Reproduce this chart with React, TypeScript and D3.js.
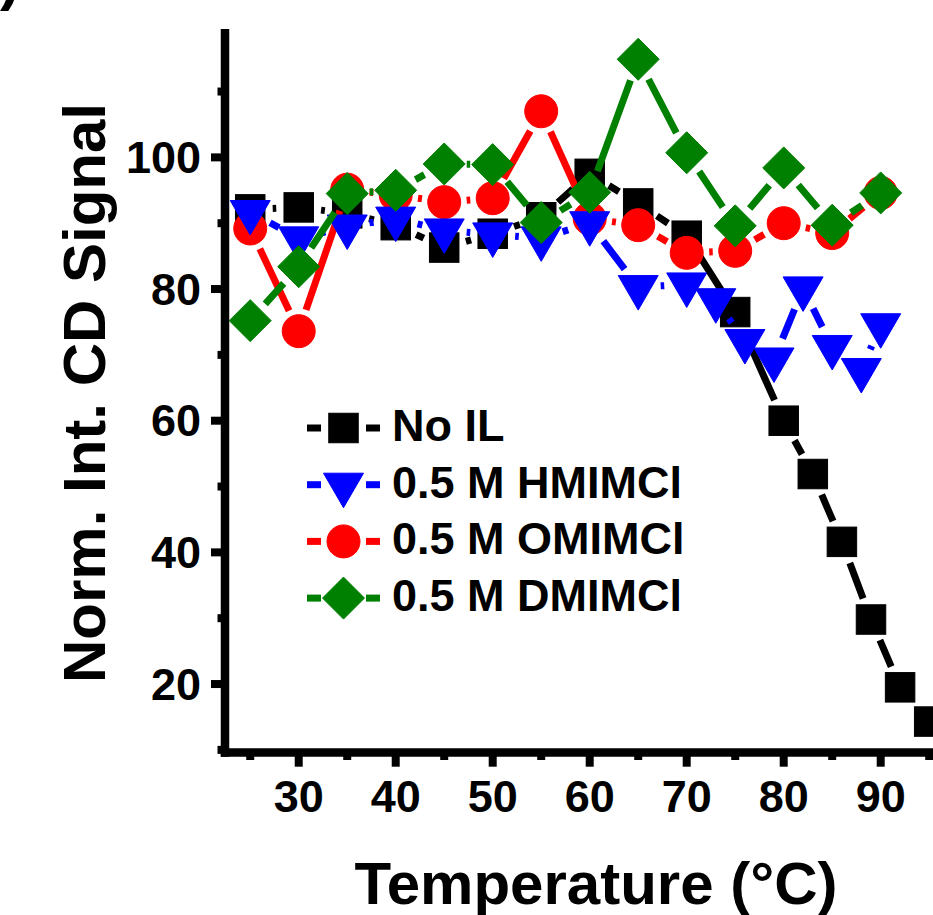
import React from 'react';
import * as d3 from 'd3';

// ---------- data ----------
const noILTemps = [25, 30, 35, 40, 45, 50, 55, 60, 65, 70, 75, 80, 83, 86, 89, 92, 95];
const noILValues = [92.1, 92.4, 91.5, 89.7, 86.3, 88.4, 90.9, 97.5, 93.0, 88.1, 76.5, 60.0, 51.9, 41.6, 29.8, 19.5, 14.3];

const hmimTemps = [25, 30, 35, 40, 45, 50, 55, 60, 65, 70, 73, 76, 79, 82, 85, 88, 90];
const hmimValues = [91.7, 87.7, 89.5, 90.7, 88.9, 88.3, 87.7, 90.0, 80.3, 80.7, 78.3, 72.1, 69.3, 80.1, 71.2, 67.7, 74.5];

const omimTemps = [25, 30, 35, 40, 45, 50, 55, 60, 65, 70, 75, 80, 85, 90];
const omimValues = [89.2, 73.6, 95.1, 94.3, 93.2, 93.8, 107.0, 90.7, 89.7, 85.5, 85.8, 90.0, 88.5, 94.6];

const dmimTemps = [25, 30, 35, 40, 45, 50, 55, 60, 65, 70, 75, 80, 85, 90];
const dmimValues = [75.2, 83.4, 94.5, 95.0, 99.0, 98.9, 90.1, 94.7, 114.9, 100.7, 89.6, 98.4, 89.7, 94.6];

const xMajorTicks = [30, 40, 50, 60, 70, 80, 90];
const xMinorTicks = [25, 35, 45, 55, 65, 75, 85, 95];
const yMajorTicks = [20, 40, 60, 80, 100];
const yMinorTicks = [10, 30, 50, 70, 90, 110];

const seriesNames = ['No IL', '0.5 M HMIMCl', '0.5 M OMIMCl', '0.5 M DMIMCl'];
const seriesColors = ['#000000', '#0000FF', '#FF0000', '#008000'];
const seriesShapes = ['square', 'triangle', 'circle', 'diamond'];

const xTitle = 'Temperature (°C)';
const yTitle = 'Norm. Int. CD Signal';

// ---------- layout ----------
const W = 933;
const H = 915;
const FONT = '"Liberation Sans", Arial, Helvetica, sans-serif';

const x = d3.scaleLinear().domain([22.4, 98]).range([225, 958.3]);
const y = d3.scaleLinear().domain([9.6, 119.5]).range([752.5, 29]);

const GAP = 22.5;

function marker(shape: string, cx: number, cy: number, color: string, key: string) {
  if (shape === 'square') {
    return <rect key={key} x={cx - 14.75} y={cy - 14.75} width={29.5} height={29.5} fill={color} stroke={color} strokeWidth={1} />;
  }
  if (shape === 'circle') {
    return <circle key={key} cx={cx} cy={cy} r={16.5} fill={color} stroke={color} strokeWidth={1} />;
  }
  if (shape === 'triangle') {
    const p = d3.path();
    p.moveTo(cx - 20, cy - 11.5);
    p.lineTo(cx + 20, cy - 11.5);
    p.lineTo(cx, cy + 23);
    p.closePath();
    return <path key={key} d={p.toString()} fill={color} stroke={color} strokeWidth={1} />;
  }
  const p = d3.path();
  p.moveTo(cx, cy - 21);
  p.lineTo(cx + 21, cy);
  p.lineTo(cx, cy + 21);
  p.lineTo(cx - 21, cy);
  p.closePath();
  return <path key={key} d={p.toString()} fill={color} stroke={color} strokeWidth={1} />;
}

function gappedPath(pts: [number, number][], gap: number) {
  const p = d3.path();
  for (let i = 0; i < pts.length - 1; i++) {
    const [x0, y0] = pts[i];
    const [x1, y1] = pts[i + 1];
    const dx = x1 - x0;
    const dy = y1 - y0;
    const len = Math.hypot(dx, dy);
    if (len <= 2 * gap) continue;
    const ux = dx / len;
    const uy = dy / len;
    p.moveTo(x0 + ux * gap, y0 + uy * gap);
    p.lineTo(x1 - ux * gap, y1 - uy * gap);
  }
  return p.toString();
}

export default function App() {
  const allTemps = [noILTemps, hmimTemps, omimTemps, dmimTemps];
  const allValues = [noILValues, hmimValues, omimValues, dmimValues];
  // drawing order as in the reference: black, red, blue, green
  const drawOrder = [0, 2, 1, 3];

  const legendBaseline0 = 441;
  const legendStep = 56.7;

  return (
    <svg width={W} height={H} style={{ position: 'absolute', left: 0, top: 0, background: '#fff' }} fontFamily={FONT}>
      <rect x={0} y={0} width={W} height={H} fill="#fff" />
      {/* panel label remnant */}
      <text x={0} y={-1} fontSize={60} fontWeight="bold" fill="#000">)</text>

      {/* series */}
      {drawOrder.map((si) => {
        const pts: [number, number][] = allTemps[si].map((t, i) => [x(t), y(allValues[si][i])]);
        return (
          <g key={si}>
            <path d={gappedPath(pts, GAP)} fill="none" stroke={seriesColors[si]} strokeWidth={7} strokeLinecap="butt" />
            {pts.map((pt, i) => marker(seriesShapes[si], pt[0], pt[1], seriesColors[si], `m${si}-${i}`))}
          </g>
        );
      })}

      {/* axes */}
      <line x1={225} x2={225} y1={29} y2={756.7} stroke="#000" strokeWidth={8.5} />
      <line x1={220.8} x2={W + 10} y1={752.5} y2={752.5} stroke="#000" strokeWidth={8.5} />

      {yMajorTicks.map((v) => (
        <g key={`ym${v}`}>
          <line x1={211} x2={225} y1={y(v)} y2={y(v)} stroke="#000" strokeWidth={8} />
          <text x={201} y={y(v) + 15.5} fontSize={45} fontWeight="bold" textAnchor="end" fill="#000">{v}</text>
        </g>
      ))}
      {yMinorTicks.map((v) => (
        <line key={`yn${v}`} x1={217.5} x2={225} y1={y(v)} y2={y(v)} stroke="#000" strokeWidth={8} />
      ))}

      {xMajorTicks.map((t) => (
        <g key={`xm${t}`}>
          <line x1={x(t)} x2={x(t)} y1={752.5} y2={766.7} stroke="#000" strokeWidth={8} />
          <text x={x(t)} y={812} fontSize={45} fontWeight="bold" textAnchor="middle" fill="#000">{t}</text>
        </g>
      ))}
      {xMinorTicks.map((t) => (
        <line key={`xn${t}`} x1={x(t)} x2={x(t)} y1={752.5} y2={760} stroke="#000" strokeWidth={8} />
      ))}

      {/* axis titles */}
      <text x={596} y={904} fontSize={60} fontWeight="bold" textAnchor="middle" fill="#000">{xTitle}</text>
      <text transform="translate(105,393) rotate(-90)" fontSize={60} fontWeight="bold" textAnchor="middle" fill="#000">{yTitle}</text>

      {/* legend */}
      {seriesNames.map((name, i) => {
        const base = legendBaseline0 + i * legendStep;
        const cy = base - 13;
        const lx0 = 307;
        const lx1 = 380;
        const cx = (lx0 + lx1) / 2;
        return (
          <g key={`lg${i}`}>
            <line x1={lx0} x2={cx - GAP} y1={cy} y2={cy} stroke={seriesColors[i]} strokeWidth={7} />
            <line x1={cx + GAP} x2={lx1} y1={cy} y2={cy} stroke={seriesColors[i]} strokeWidth={7} />
            {marker(seriesShapes[i], cx, cy, seriesColors[i], `lm${i}`)}
            <text x={392} y={base} fontSize={45} fontWeight="bold" fill="#000">{name}</text>
          </g>
        );
      })}
    </svg>
  );
}
